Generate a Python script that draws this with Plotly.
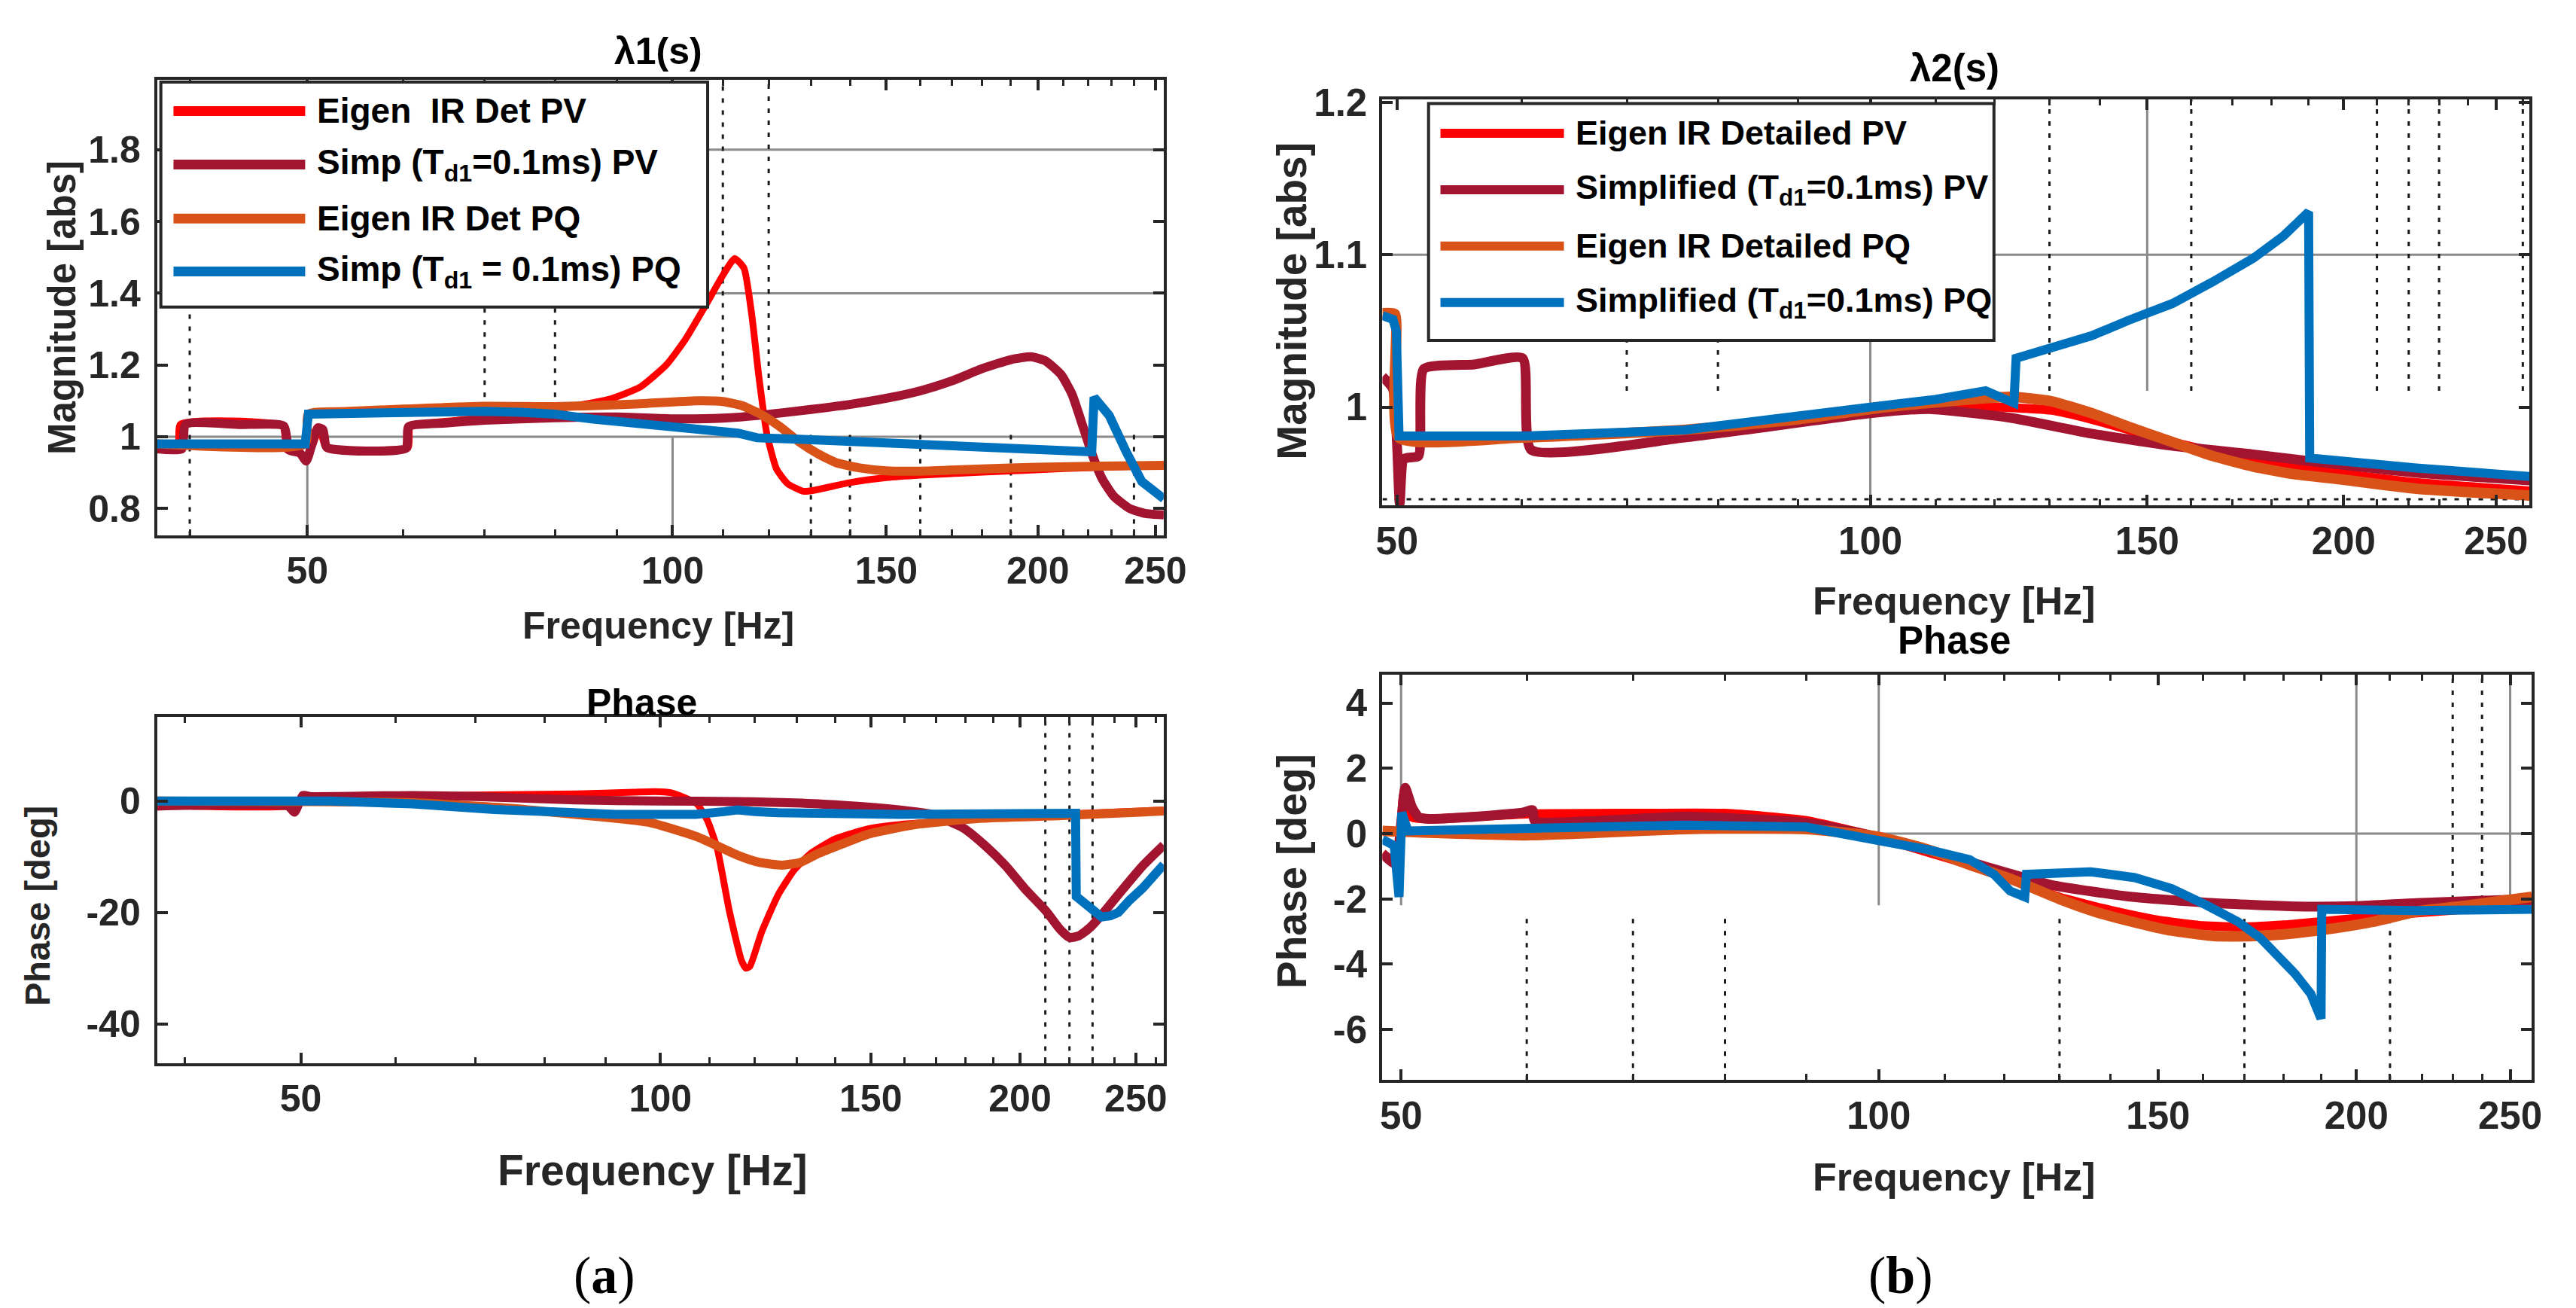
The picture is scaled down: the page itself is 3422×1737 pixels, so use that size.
import plotly.graph_objects as go

# page body keeps its default 8 px margin, so the figure is shifted by that much
PAGE_W, PAGE_H, OFF = 3422, 1737, 8
W, H = PAGE_W - OFF, PAGE_H - OFF

COLORS = ["#FF0000", "#A2142F", "#D95319", "#0072BD"]
SHAPES = ["spline", "spline", "spline", "linear"]   # blue curves have sharp jumps
INK = "#262626"

# ---------------- (a) lambda1 : magnitude ----------------
a_mag_red_f = [37.6, 39.1, 39.3, 47.7, 48.1, 49.3, 49.9, 50.5, 51.2, 51.8, 60.5, 60.8, 66, 72, 78,
               82.5, 88.6, 94, 98.8, 102.4, 106.2, 110, 112.5, 114.5, 116.2, 117.8, 119.6, 121.8,
               124.4, 128.1, 130.9, 140, 150, 160, 180, 210, 254]
a_mag_red_v = [0.966, 0.966, 1.035, 1.030, 0.963, 0.955, 0.932, 0.975, 1.025, 0.970, 0.968, 1.028,
               1.045, 1.058, 1.07, 1.084, 1.104, 1.138, 1.20, 1.27, 1.36, 1.45, 1.497, 1.47, 1.34,
               1.166, 1.007, 0.91, 0.869, 0.848, 0.851, 0.872, 0.886, 0.893, 0.901, 0.911, 0.92]

a_mag_maroon_f = [37.6, 39.4, 39.7, 44, 47.8, 48.3, 49.3, 49.9, 50.4, 51.0, 51.5, 51.9, 60.3, 60.6,
                  65, 70, 80, 90, 100, 110, 118.3, 130, 140, 150, 160, 170, 180, 190, 197.4, 203,
                  209, 213.4, 218.2, 222, 226, 231, 238, 245.3, 254]
a_mag_maroon_v = [0.966, 0.966, 1.035, 1.034, 1.030, 0.963, 0.955, 0.932, 0.975, 1.025, 1.020, 0.970,
                  0.968, 1.028, 1.038, 1.046, 1.053, 1.055, 1.050, 1.052, 1.060, 1.076, 1.090, 1.107,
                  1.128, 1.156, 1.190, 1.215, 1.223, 1.211, 1.173, 1.118, 1.021, 0.945, 0.882, 0.834,
                  0.800, 0.786, 0.782]

a_mag_orange_f = [37.6, 49.8, 50.1, 53.7, 60, 70, 80, 90, 95.3, 104.6, 110, 114, 118.3, 122.6, 127.1,
                  131.8, 136.6, 142.6, 150, 160, 180, 200, 226, 254]
a_mag_orange_v = [0.980, 0.980, 1.063, 1.070, 1.077, 1.085, 1.084, 1.089, 1.093, 1.100, 1.098, 1.087,
                  1.062, 1.028, 0.986, 0.952, 0.927, 0.913, 0.905, 0.904, 0.910, 0.915, 0.918, 0.920]

a_mag_blue_f = [37.6, 49.8, 50.1, 55, 60, 70, 75, 80, 86, 93, 100, 110, 113.2, 117.4, 127, 150, 180,
                221.5, 222.5, 229, 236.5, 243.6, 254]
a_mag_blue_v = [0.980, 0.980, 1.063, 1.066, 1.068, 1.071, 1.068, 1.063, 1.049, 1.036, 1.024, 1.014,
                1.010, 0.997, 0.993, 0.983, 0.969, 0.958, 1.110, 1.059, 0.958, 0.875, 0.827]

# ---------------- (a) lambda1 : phase ----------------
a_ph_red_f = [37.9, 49.5, 50.5, 52, 60, 70, 85, 95, 99, 102, 104.8, 107.3, 109.5, 111.6, 114.2, 116.9,
              117.9, 118.8, 121.6, 125.5, 129.4, 133.6, 140, 149, 158.6, 168.8, 185.4, 220, 263.8]
a_ph_red_v = [-0.8, -0.8, 0.6, 0.9, 0.9, 1.1, 1.3, 1.6, 1.7, 1.5, 0.6, -0.5, -3.5, -8.6, -19.7, -28.6,
              -30.0, -29.7, -23.4, -16.8, -12.4, -9.4, -6.8, -5.0, -4.2, -3.8, -3.1, -2.3, -1.6]

a_ph_maroon_f = [37.9, 48.8, 49.4, 50.2, 51, 62, 70, 85, 100, 116, 135.6, 153.7, 168.8, 179.5, 187,
                 194.5, 202, 210.2, 216, 220, 224, 228.9, 235, 241.7, 253.4, 263.8]
a_ph_maroon_v = [-0.9, -0.9, -2.0, 1.0, 0.8, 1.0, 0.8, 0.2, 0.0, -0.1, -0.5, -1.3, -2.4, -4.9, -8.0,
                 -11.6, -15.8, -19.7, -23.0, -24.5, -24.2, -22.7, -20.0, -16.8, -11.6, -7.9]

a_ph_orange_f = [37.9, 50, 62, 75, 85, 97.7, 107.3, 116, 121, 126.4, 131, 135.6, 142, 149, 163.6, 185,
                 217, 263.8]
a_ph_orange_v = [0.0, -0.1, -0.3, -1.3, -2.4, -3.8, -6.4, -9.7, -11.0, -11.5, -11.0, -9.4, -7.7, -6.0,
                 -4.2, -3.1, -2.6, -1.8]

a_ph_blue_f = [37.9, 53, 62, 72.6, 91.8, 107, 113, 116, 120, 125.4, 158.6, 222.6, 222.9, 229, 234, 238,
               241.7, 247, 253.4, 263.8]
a_ph_blue_v = [0.0, 0.0, -0.5, -1.5, -2.4, -2.4, -1.9, -1.6, -1.9, -2.1, -2.4, -2.2, -17.1, -19.0,
               -20.8, -20.6, -20.0, -17.8, -15.6, -11.4]

# ---------------- (b) lambda2 : magnitude ----------------
b_mag_red_f = [48.95, 49.85, 50.15, 60, 76, 100, 109, 119.8, 130.2, 138.3, 155.7, 175.2, 197.7, 222.4,
               262.6]
b_mag_red_v = [1.060, 1.058, 0.980, 0.980, 0.985, 0.998, 1.000, 1.000, 0.998, 0.992, 0.977, 0.965,
               0.957, 0.9505, 0.945]

b_mag_maroon_f = [48.95, 49.7, 50.2, 50.5, 51.6, 52.0, 56, 60.1, 60.85, 76.2, 100, 109, 122.7, 138.3,
                  155.7, 175.2, 197.7, 222.4, 262.6]
b_mag_maroon_v = [1.020, 1.012, 0.937, 0.966, 0.968, 1.025, 1.028, 1.032, 0.972, 0.980, 0.996, 0.9987,
                  0.993, 0.9826, 0.9746, 0.969, 0.9626, 0.957, 0.9519]

b_mag_orange_f = [48.95, 49.85, 50.15, 60, 76, 90, 100, 109, 122.7, 130.2, 138.3, 146, 155.7, 165,
                  175.2, 186, 197.7, 222.4, 262.6]
b_mag_orange_v = [1.0615, 1.061, 0.980, 0.980, 0.985, 0.992, 0.9987, 1.0027, 1.0067, 1.004, 0.996,
                  0.987, 0.977, 0.968, 0.961, 0.956, 0.953, 0.9465, 0.942]

b_mag_blue_f = [48.95, 49.7, 49.95, 50.15, 60.1, 76.2, 100, 110, 118.4, 123.4, 123.8, 130, 138.3, 146,
                155.7, 165, 175.2, 183, 190.0, 190.3, 222.4, 262.6]
b_mag_blue_v = [1.060, 1.0575, 1.050, 0.981, 0.981, 0.985, 1.000, 1.005, 1.0107, 1.0027, 1.032, 1.039,
                1.0468, 1.057, 1.068, 1.082, 1.0976, 1.112, 1.128, 0.9666, 0.960, 0.9545]

# ---------------- (b) lambda2 : phase ----------------
b_ph_red_f = [48.67, 49.7, 50.2, 50.8, 52, 60, 70, 80, 90, 100, 107, 114, 121, 130, 140, 150, 160, 170,
              180, 190, 200, 215, 230, 258]
b_ph_red_v = [-0.6, -0.9, 1.2, 0.5, 0.45, 0.6, 0.62, 0.62, 0.4, -0.12, -0.55, -0.95, -1.4, -1.95,
              -2.35, -2.65, -2.82, -2.86, -2.8, -2.7, -2.6, -2.45, -2.35, -2.1]

b_ph_maroon_f = [48.67, 49.6, 50.0, 50.3, 50.8, 51.3, 52.1, 55, 59.6, 60.5, 60.7, 75.6, 90, 100, 114.1,
                 128.4, 144.4, 162.6, 183, 200, 218.2, 258]
b_ph_maroon_v = [-0.62, -0.93, 0.3, 1.4, 0.8, 0.5, 0.45, 0.5, 0.64, 0.72, 0.39, 0.52, 0.33, -0.11,
                 -0.87, -1.57, -1.94, -2.13, -2.23, -2.22, -2.13, -2.0]

b_ph_orange_f = [48.67, 60, 75.6, 90, 100, 107.6, 114, 121, 129.9, 137, 144.4, 152, 162.6, 172.4, 183,
                 193.9, 205, 218.2, 235, 258]
b_ph_orange_v = [0.08, -0.05, 0.14, 0.14, -0.1, -0.5, -0.95, -1.38, -2.0, -2.4, -2.7, -2.95, -3.14,
                 -3.14, -3.05, -2.9, -2.7, -2.39, -2.2, -1.94]

b_ph_blue_f = [48.67, 49.5, 49.85, 50.05, 50.5, 59.6, 75.6, 90, 100, 107.6, 114.1, 118.2, 121, 123.6,
               123.9, 128, 136, 145, 153, 161, 168.4, 174, 178.6, 183, 187.2, 190.0, 190.2, 218.2, 258]
b_ph_blue_v = [-0.18, -0.37, -1.94, 0.64, 0.08, 0.14, 0.26, 0.2, -0.18, -0.5, -0.8, -1.25, -1.76, -1.94,
               -1.25, -1.2, -1.17, -1.35, -1.69, -2.2, -2.7, -3.2, -3.78, -4.3, -4.91, -5.67, -2.32,
               -2.36, -2.32]

# legend texts
legend_a = ["Eigen&nbsp; IR Det PV", "Simp (T<sub>d1</sub>=0.1ms) PV",
            "Eigen IR Det PQ", "Simp (T<sub>d1</sub> = 0.1ms) PQ"]
legend_b = ["Eigen IR Detailed PV", "Simplified (T<sub>d1</sub>=0.1ms) PV",
            "Eigen IR Detailed PQ", "Simplified (T<sub>d1</sub>=0.1ms) PQ"]

# tick labels
x_ticks = [50, 100, 150, 200, 250]
x_ticktext = ["50", "100", "150", "200", "250"]
x_minor = [40, 60, 70, 80, 90, 110, 120, 130, 140, 160, 170, 180, 190, 210, 220, 230, 240, 260]
a_mag_yticks = [0.8, 1.0, 1.2, 1.4, 1.6, 1.8]
a_mag_yticktext = ["0.8", "1", "1.2", "1.4", "1.6", "1.8"]
a_ph_yticks = [-40, -20, 0]
a_ph_yticktext = ["-40", "-20", "0"]
b_mag_yticks = [1.0, 1.1, 1.2]
b_mag_yticktext = ["1", "1.1", "1.2"]
b_ph_yticks = [-6, -4, -2, 0, 2, 4]
b_ph_yticktext = ["-6", "-4", "-2", "0", "2", "4"]


def px(x):
    return (x - OFF) / W


def py(y):
    return 1 - (y - OFF) / H


fig = go.Figure()

# MATLAB-like partial grid segments (x0, x1, y0, y1)
grids = {
    ("x", "y"): {
        "major": [(37.6, 254, 1.8, 1.8), (37.6, 254, 1.4, 1.4), (37.6, 254, 1.0, 1.0),
                  (50, 50, 0.724, 1.0), (100, 100, 0.724, 1.0)],
        "minor": [(40, 40, 0.724, 1.995), (70, 70, 1.077, 1.995), (80, 80, 1.077, 1.995),
                  (110, 110, 1.125, 1.995), (120, 120, 1.13, 1.995),
                  (130, 130, 0.724, 1.02), (140, 140, 0.724, 1.02), (160, 160, 0.724, 1.02),
                  (190, 190, 0.724, 1.02), (240, 240, 0.724, 1.02)],
    },
    ("x2", "y2"): {
        "major": [],
        "minor": [(210, 210, -47, 15.1), (220, 220, -47, 15.1), (230, 230, -47, 15.1)],
    },
    ("x3", "y3"): {
        "major": [(48.95, 262.6, 1.1, 1.1), (100, 100, 0.9356, 1.043), (150, 150, 1.0107, 1.202)],
        "minor": [(48.95, 262.6, 0.9395, 0.9395), (70, 70, 1.0107, 1.044), (80, 80, 1.0107, 1.044),
                  (130, 130, 1.0107, 1.202), (160, 160, 1.0107, 1.202), (210, 210, 1.0107, 1.202),
                  (220, 220, 1.0107, 1.202), (230, 230, 1.0107, 1.202), (260, 260, 1.0107, 1.202)],
    },
    ("x4", "y4"): {
        "major": [(100, 258, 0, 0), (50, 50, -2.2, 4.87), (100, 100, -2.2, 4.87),
                  (200, 200, -2.1, 4.87), (250, 250, -2.0, 4.87)],
        "minor": [(60, 60, -7.55, -2.4), (70, 70, -7.55, -2.4), (80, 80, -7.55, -2.4),
                  (130, 130, -7.55, -2.4), (170, 170, -7.55, -2.4), (210, 210, -7.55, -2.4),
                  (230, 230, -2.4, 4.87), (240, 240, -2.4, 4.87)],
    },
}

for (xa, ya), g in grids.items():
    for kind, segs in g.items():
        if not segs:
            continue
        xs, ys = [], []
        for x0, x1, y0, y1 in segs:
            xs += [x0, x1, None]
            ys += [y0, y1, None]
        if kind == "major":
            line = dict(color="#8a8a8a", width=3)
        else:
            line = dict(color="#1a1a1a", width=3, dash="6px,10px")
        fig.add_trace(go.Scatter(x=xs, y=ys, mode="lines", line=line, xaxis=xa, yaxis=ya,
                                 hoverinfo="skip", showlegend=False))

panels = [
    ("x", "y", [(a_mag_red_f, a_mag_red_v), (a_mag_maroon_f, a_mag_maroon_v),
                (a_mag_orange_f, a_mag_orange_v), (a_mag_blue_f, a_mag_blue_v)],
     legend_a, [9, 12, 12, 12]),
    ("x2", "y2", [(a_ph_red_f, a_ph_red_v), (a_ph_maroon_f, a_ph_maroon_v),
                  (a_ph_orange_f, a_ph_orange_v), (a_ph_blue_f, a_ph_blue_v)],
     legend_a, [9, 12, 12, 12]),
    ("x3", "y3", [(b_mag_red_f, b_mag_red_v), (b_mag_maroon_f, b_mag_maroon_v),
                  (b_mag_orange_f, b_mag_orange_v), (b_mag_blue_f, b_mag_blue_v)],
     legend_b, [12, 13, 14, 12]),
    ("x4", "y4", [(b_ph_red_f, b_ph_red_v), (b_ph_maroon_f, b_ph_maroon_v),
                  (b_ph_orange_f, b_ph_orange_v), (b_ph_blue_f, b_ph_blue_v)],
     legend_b, [12, 13, 14, 12]),
]

for xa, ya, series, names, widths in panels:
    for (f, v), name, c, w, shp in zip(series, names, COLORS, widths, SHAPES):
        fig.add_trace(go.Scatter(x=f, y=v, mode="lines", name=name, xaxis=xa, yaxis=ya,
                                 line=dict(color=c, width=w, shape=shp, smoothing=0.5),
                                 showlegend=False))

tick_font_a = dict(family="Liberation Sans, Arial", size=50, color=INK, weight="bold")
tick_font_b = dict(family="Liberation Sans, Arial", size=51, color=INK, weight="bold")


def xaxis(dom, rng, anchor, font):
    return dict(type="log", domain=dom, range=rng, anchor=anchor,
                tickmode="array", tickvals=x_ticks, ticktext=x_ticktext, tickfont=font,
                ticks="inside", ticklen=14, tickwidth=4, tickcolor=INK,
                minor=dict(tickmode="array", tickvals=x_minor, ticks="inside", ticklen=8,
                           tickwidth=3, tickcolor=INK, showgrid=False),
                showline=True, linecolor=INK, linewidth=4, mirror="ticks",
                showgrid=False, zeroline=False, ticklabelstandoff=0)


def yaxis(dom, rng, anchor, vals, text, font, standoff):
    return dict(domain=dom, range=rng, anchor=anchor,
                tickmode="array", tickvals=vals, ticktext=text, tickfont=font,
                ticks="inside", ticklen=14, tickwidth=4, tickcolor=INK,
                showline=True, linecolor=INK, linewidth=4, mirror="ticks",
                showgrid=False, zeroline=False, ticklabelstandoff=standoff)


fig.update_layout(
    width=W, height=H, margin=dict(l=0, r=0, t=0, b=0),
    paper_bgcolor="white", plot_bgcolor="white", showlegend=False,
    xaxis=xaxis([px(202), px(1555)], [1.5752, 2.4047], "y", tick_font_a),
    yaxis=yaxis([py(697), py(83)], [0.724, 1.995], "x", a_mag_yticks, a_mag_yticktext,
                tick_font_a, 8),
    xaxis2=xaxis([px(202), px(1555)], [1.5787, 2.4213], "y2", tick_font_a),
    yaxis2=yaxis([py(1407), py(941)], [-47.0, 15.1], "x2", a_ph_yticks, a_ph_yticktext,
                 tick_font_a, 8),
    xaxis3=xaxis([px(1849), px(3391)], [1.6897, 2.4193], "y3", tick_font_b),
    yaxis3=yaxis([py(656), py(109)], [0.9356, 1.202], "x3", b_mag_yticks, b_mag_yticktext,
                 tick_font_b, 6),
    xaxis4=xaxis([px(1849), px(3394)], [1.6872, 2.4116], "y4", tick_font_b),
    yaxis4=yaxis([py(1430), py(884)], [-7.55, 4.87], "x4", b_ph_yticks, b_ph_yticktext,
                 tick_font_b, 6),
)

# legends drawn as boxes in the upper panels
shapes = []
annotations = []
legend_boxes = [
    # box x0, x1, y0, y1, sample x0, x1, text x, rows y, font size, line width
    (207, 942, 86, 389, 224, 401, 415, [125, 197, 270, 341], legend_a, 46, 13),
    (1911, 2671, 115, 434, 1927, 2093, 2107, [155, 231, 307, 383], legend_b, 45, 12),
]
for bx0, bx1, by0, by1, sx0, sx1, tx, rows, names, fs, lw in legend_boxes:
    shapes.append(dict(type="rect", xref="paper", yref="paper", x0=px(bx0), x1=px(bx1),
                       y0=py(by1), y1=py(by0), fillcolor="white",
                       line=dict(color=INK, width=4), layer="above"))
    for ry, name, c in zip(rows, names, COLORS):
        shapes.append(dict(type="line", xref="paper", yref="paper", x0=px(sx0), x1=px(sx1),
                           y0=py(ry), y1=py(ry), line=dict(color=c, width=lw), layer="above"))
        annotations.append(dict(xref="paper", yref="paper", x=px(tx), y=py(ry), text=name,
                                showarrow=False, xanchor="left", yanchor="middle",
                                font=dict(family="Liberation Sans, Arial", size=fs,
                                          color="black", weight="bold")))


def label(text, x, y, size, angle=0, color=INK):
    annotations.append(dict(xref="paper", yref="paper", x=px(x), y=py(y), text=text,
                            showarrow=False, xanchor="center", yanchor="middle",
                            textangle=angle,
                            font=dict(family="Liberation Sans, Arial", size=size, color=color,
                                      weight="bold")))


label("λ1(s)", 876, 44, 50, color="black")
label("λ2(s)", 2618, 67, 51, color="black")
label("Phase", 853, 922, 50, color="black")
label("Phase", 2618, 838, 51, color="black")
label("Frequency [Hz]", 876, 818, 50)
label("Frequency [Hz]", 2618, 785, 52)
label("Frequency [Hz]", 868, 1551, 57)
label("Frequency [Hz]", 2618, 1561, 52)
label("Magnitude [abs]", 74, 390, 51, angle=-90)
label("Phase [deg]", 41, 1196, 47, angle=-90)
label("Magnitude [abs]", 1727, 381, 55, angle=-90)
label("Phase [deg]", 1727, 1149, 55, angle=-90)
for text, x in [("(<b>a</b>)", 803), ("(<b>b</b>)", 2546)]:
    annotations.append(dict(xref="paper", yref="paper", x=px(x), y=py(1693), text=text,
                            showarrow=False, xanchor="center", yanchor="middle",
                            font=dict(family="Liberation Serif, Times New Roman", size=70,
                                      color="black")))

fig.update_layout(shapes=shapes, annotations=annotations)

fig.write_html("out.html")
